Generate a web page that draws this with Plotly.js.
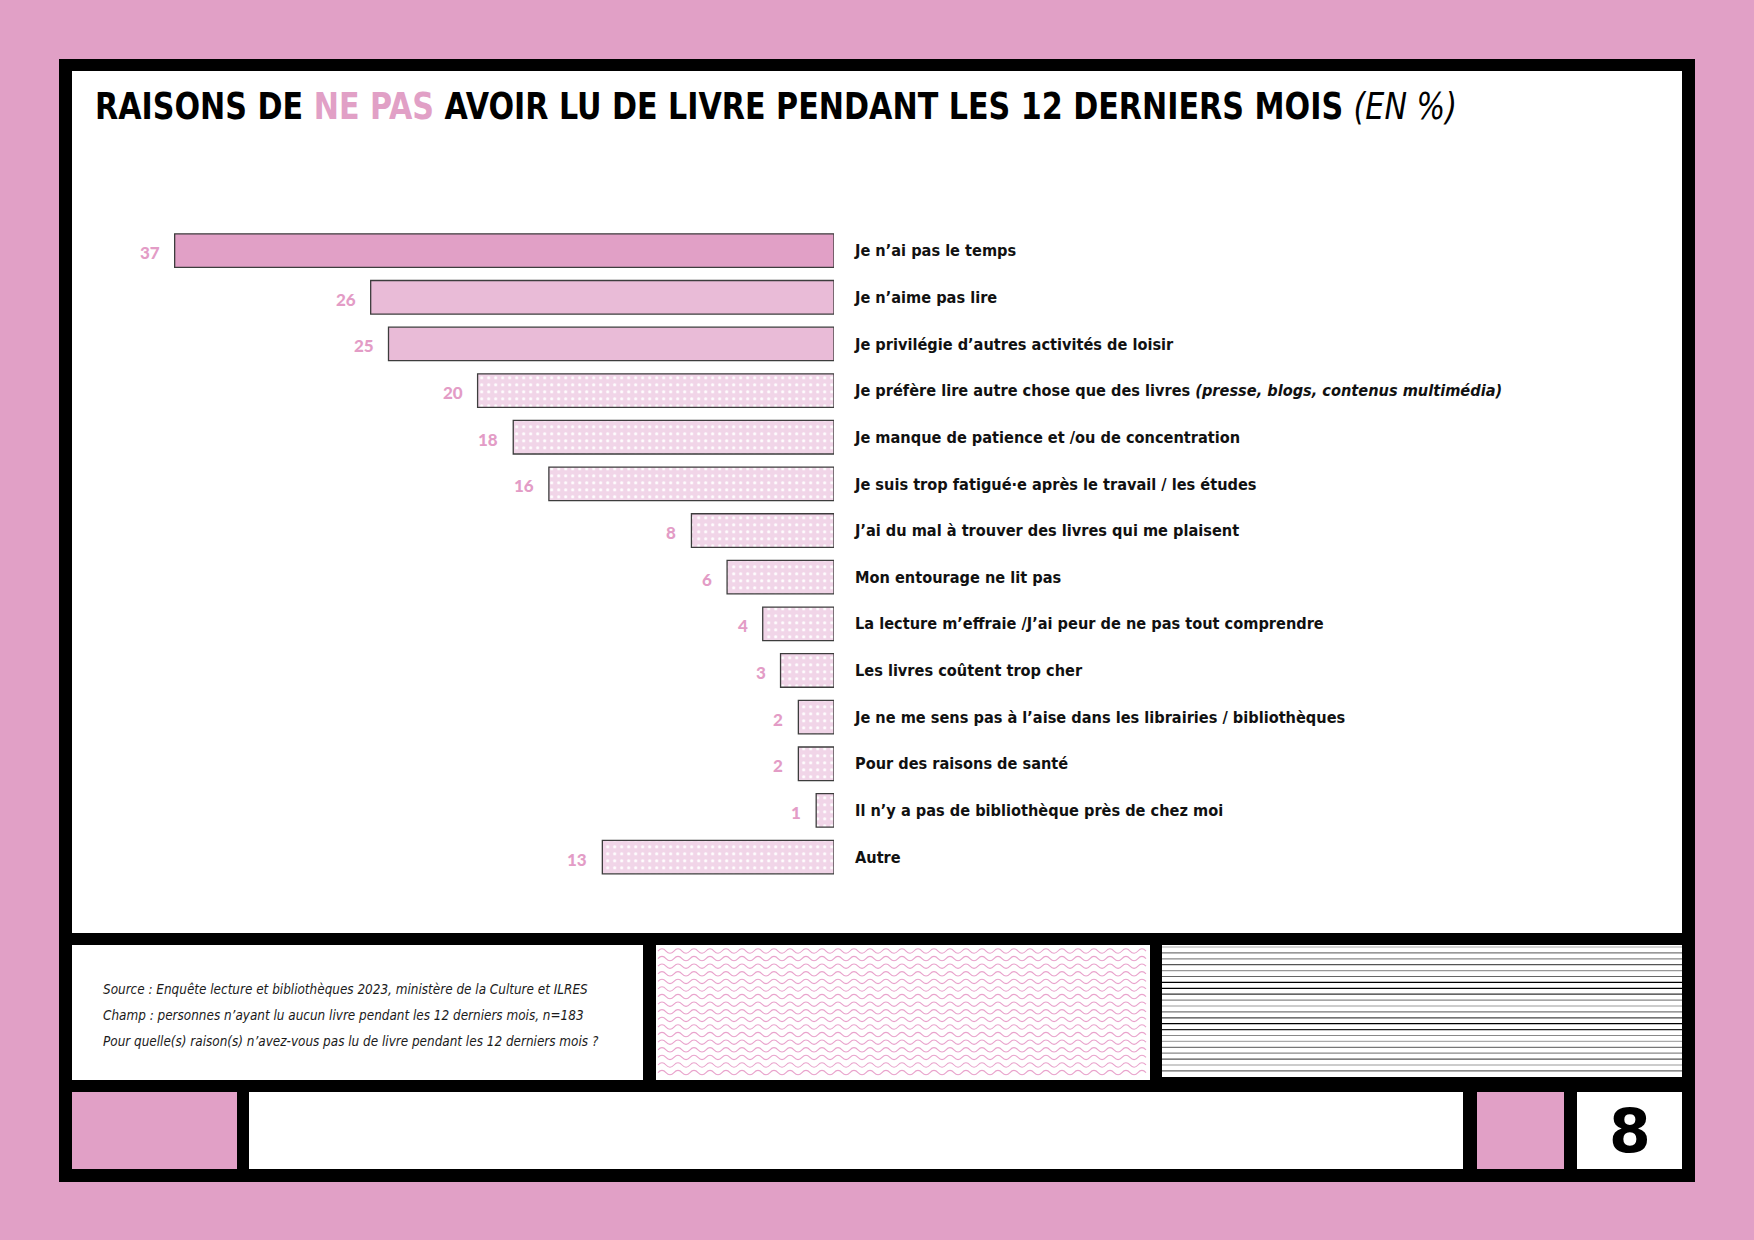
<!DOCTYPE html>
<html>
<head>
<meta charset="utf-8">
<script src="https://cdn.plot.ly/plotly-3.0.1.min.js"></script>
<style>html,body{margin:0;padding:0;background:#e1a0c6;}#chart{width:1754px;height:1240px;}</style>
</head>
<body>
<div id="chart"></div>
<script>
// ---------- DATA ----------
const categories = [
  "Je n’ai pas le temps",
  "Je n’aime pas lire",
  "Je privilégie d’autres activités de loisir",
  "Je préfère lire autre chose que des livres",
  "Je manque de patience et /ou de concentration",
  "Je suis trop fatigué·e après le travail / les études",
  "J’ai du mal à trouver des livres qui me plaisent",
  "Mon entourage ne lit pas",
  "La lecture m’effraie /J’ai peur de ne pas tout comprendre",
  "Les livres coûtent trop cher",
  "Je ne me sens pas à l’aise dans les librairies / bibliothèques",
  "Pour des raisons de santé",
  "Il n’y a pas de bibliothèque près de chez moi",
  "Autre"
];
const labelNotes = ["", "", "", "(presse, blogs, contenus multimédia)", "", "", "", "", "", "", "", "", "", ""];
const values = [37, 26, 25, 20, 18, 16, 8, 6, 4, 3, 2, 2, 1, 13];

const titleParts = ["RAISONS DE ", "NE PAS", " AVOIR LU DE LIVRE PENDANT LES 12 DERNIERS MOIS", "(EN %)"];
const sourceLines = [
  "Source : Enquête lecture et bibliothèques 2023, ministère de la Culture et ILRES",
  "Champ : personnes n’ayant lu aucun livre pendant les 12 derniers mois, n=183",
  "Pour quelle(s) raison(s) n’avez-vous pas lu de livre pendant les 12 derniers mois ?"
];
const pageNumber = "8";

// ---------- STYLE ----------
const W = 1754, H = 1240;
const PINK = "#e1a0c6";
const LIGHT = "#e9bbd7";
const DOTBG = "#f1d5e8";
const NUMPINK = "#e39cc6";
const NARROW = "'Liberation Sans Narrow', 'Arial Narrow', 'DejaVu Sans Condensed', Lato, sans-serif";

const px = x => x / W;
const py = y => 1 - y / H;
const shapes = [];
function rect(x0, y0, x1, y1, color) {
  shapes.push({type: "rect", xref: "paper", yref: "paper", layer: "below",
    x0: px(x0), x1: px(x1), y0: py(y1), y1: py(y0),
    fillcolor: color, line: {width: 0}});
}
// frame
rect(59, 59, 1695, 1182, "#000");
rect(72, 71, 1682, 933, "#fff");
rect(72, 945, 643, 1080, "#fff");
rect(656, 945, 1150, 1080, "#fff");
rect(1162, 945, 1682, 1077, "#fff");
rect(72, 1092, 237, 1169, PINK);
rect(249, 1092, 1463, 1169, "#fff");
rect(1477, 1092, 1564, 1169, PINK);
rect(1577, 1092, 1682, 1169, "#fff");

// wave panel
(function () {
  const lam = 16, amp = 2.2;
  let d = "";
  for (let y = 951; y <= 1077; y += 7.6) {
    let x = 658;
    d += `M${px(x).toFixed(5)},${py(y).toFixed(5)} Q${px(x + lam / 4).toFixed(5)},${py(y - 2 * amp).toFixed(5)} ${px(x + lam / 2).toFixed(5)},${py(y).toFixed(5)} `;
    x += lam / 2;
    while (x + lam / 2 <= 1149) {
      x += lam / 2;
      d += `T${px(x).toFixed(5)},${py(y).toFixed(5)} `;
    }
  }
  shapes.push({type: "path", xref: "paper", yref: "paper", layer: "below", path: d,
    line: {color: "#e9a3cc", width: 1.1}});
})();

// stripes panel
(function () {
  const cols = ["#aaa", "#777", "#888", "#555", "#999", "#666", "#000", "#000", "#333", "#888", "#999", "#777", "#444", "#000", "#222", "#888"];
  let k = 0;
  for (let y = 947; y <= 1076; y += 5.9) {
    shapes.push({type: "line", xref: "paper", yref: "paper", layer: "below",
      x0: px(1162), x1: px(1682), y0: py(y), y1: py(y),
      line: {color: cols[k % cols.length], width: 1.2}});
    k++;
  }
})();

// bars: three groups (solid, light, dotted)
const n = values.length;
const groups = [
  {idx: [0], color: PINK, shape: ""},
  {idx: [1, 2], color: LIGHT, shape: ""},
  {idx: values.map((v, i) => i).filter(i => i >= 3), color: DOTBG, shape: "."}
];
const traces = groups.map(g => ({
  type: "bar", orientation: "h",
  x: g.idx.map(i => values[i]), y: g.idx.map(i => categories[i]),
  width: 0.72,
  marker: {
    color: g.color,
    line: {color: "#3d3d3d", width: 1.3},
    pattern: g.shape ? {shape: g.shape, fgcolor: "#ffffff", bgcolor: g.color, size: 7, solidity: 0.16, fillmode: "replace"} : {shape: ""}
  },
  hoverinfo: "skip",
  showlegend: false
}));

const tickText = categories.map((c, i) => labelNotes[i] ? `${c} <i>${labelNotes[i]}</i>` : c);

const annotations = values.map((v, i) => ({
  x: v, y: categories[i], xref: "x", yref: "y",
  text: String(v), showarrow: false, xanchor: "right", yanchor: "middle",
  xshift: -13, yshift: -2,
  font: {family: "Lato, sans-serif", size: 17, color: NUMPINK, weight: 900}
}));

// source lines
sourceLines.forEach((t, i) => annotations.push({
  xref: "paper", yref: "paper", x: px(101), y: py(989 + i * 26.3),
  xanchor: "left", yanchor: "middle", showarrow: false, text: `<i>${t}</i>`,
  font: {family: NARROW, size: 13.4, color: "#1a1a1a"}
}));

// page number
annotations.push({
  xref: "paper", yref: "paper", x: px(1629.5), y: py(1131),
  xanchor: "center", yanchor: "middle", showarrow: false, text: pageNumber,
  font: {family: "'DejaVu Sans', sans-serif", size: 60, color: "#000", weight: 700}
});

const layout = {
  width: W, height: H,
  margin: {l: 0, r: 0, t: 0, b: 0, pad: 0},
  paper_bgcolor: PINK,
  plot_bgcolor: "rgba(0,0,0,0)",
  barmode: "overlay",
  title: {
    text: `${titleParts[0]}<span style="color:${PINK}">${titleParts[1]}</span>${titleParts[2]} <i style="font-weight:normal">${titleParts[3]}</i>`,
    x: px(95), xanchor: "left", xref: "paper",
    y: py(106), yanchor: "middle", yref: "paper",
    font: {family: NARROW, size: 37, color: "#000", weight: 700}
  },
  xaxis: {
    domain: [px(834 - 40 * 17.82), px(834)],
    range: [40, 0], visible: false, fixedrange: true
  },
  yaxis: {
    domain: [py(880.4), py(227.3)],
    type: "category", categoryorder: "array", categoryarray: categories,
    range: [n - 0.5, -0.5],
    side: "right", ticks: "", showgrid: false, zeroline: false, showline: false,
    tickmode: "array", tickvals: categories, ticktext: tickText,
    ticklabelstandoff: 20,
    tickfont: {family: NARROW, size: 16.2, color: "#111", weight: 700},
    automargin: false, fixedrange: true
  },
  shapes: shapes,
  annotations: annotations,
  showlegend: false
};

Plotly.newPlot("chart", traces, layout, {displayModeBar: false, staticPlot: true}).then(() => {
  // horizontally condense the title to match the condensed display face
  const t = document.querySelector(".gtitle");
  if (t) {
    const bb = t.getBBox();
    t.style.transformOrigin = `${bb.x}px ${bb.y + bb.height / 2}px`;
    t.style.transform = "scaleX(0.906)";
  }
});
</script>
</body>
</html>
